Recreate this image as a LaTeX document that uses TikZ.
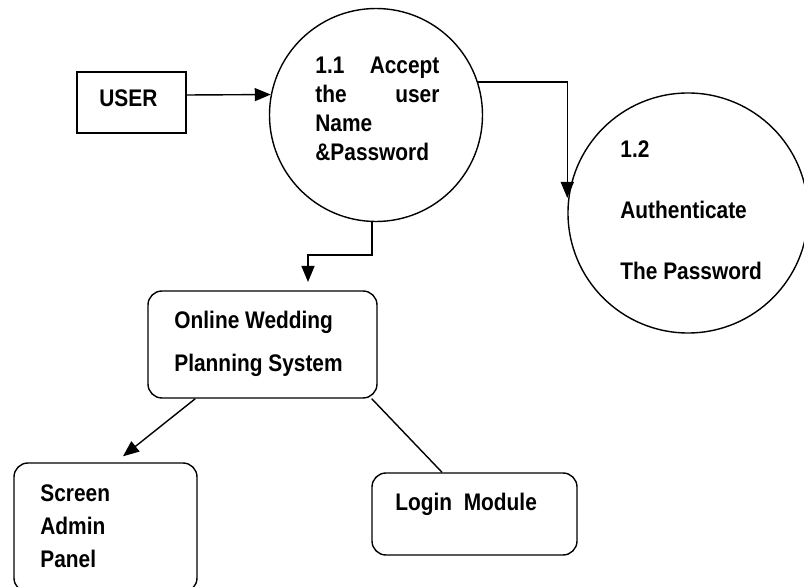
\documentclass[tikz,border=0pt]{standalone}
\usepackage{fontspec}
\setmainfont{Liberation Sans}[FakeStretch=0.87]
\usetikzlibrary{arrows.meta}

\begin{document}
\begin{tikzpicture}[x=0.5pt, y=-0.5pt,
    process style/.style={draw=black, line width=0.7pt, circle, inner sep=0pt},
    entity style/.style={draw=black, line width=0.7pt, rectangle, inner sep=0pt},
    module style/.style={draw=black, line width=0.7pt, rectangle, rounded corners=7pt, inner sep=0pt},
    label style/.style={inner sep=0pt, anchor=base west, align=left, font=\bfseries\fontsize{12}{#1}\selectfont},
    label style/.default=14.5,
    flow style/.style={line width=0.7pt, -{Triangle[length=8pt, width=6.5pt]}},
    link style/.style={line width=0.7pt},]
    \useasboundingbox (0,0) rectangle (804,587);

    % boxes and processes
    \node[style=entity style, minimum width=54.5pt, minimum height=30.5pt] (user) at (131.5,102.5) {};
    \node[style=process style, minimum size=106.5pt] (accept) at (376,115) {};
    \node[style=process style, minimum size=120pt] (auth) at (688,213) {};
    \node[style=module style, minimum width=114.5pt, minimum height=53.5pt] (system) at (262.5,344.5) {};
    \node[style=module style, minimum width=91.5pt, minimum height=64.5pt] (admin) at (105.5,527.5) {};
    \node[style=module style, minimum width=102.5pt, minimum height=41pt] (login) at (474.5,514) {};

    % texts (base = last line)
    \node[style=label style] (user text) at (99,107) {USER};
    \node[style=label style, text width=62pt] (accept text) at (315,74) {1.1\hfill Accept\\the\hfill user\\Name\\\&Password};
    \node[style={label style=30.5}] (auth text) at (620,280) {1.2\\Authenticate\\The Password};
    \node[style={label style=21.5}] (system text) at (174,372) {Online Wedding\\Planning System};
    \node[style={label style=16.5}] (admin text) at (40,568) {Screen\\Admin\\Panel};
    \node[style=label style] (login text) at (395,511) {Login\ \ Module};

    \coordinate (drop) at (308,282);

    % flows
    \draw[style=flow style] ([yshift=3.75pt]user.east) -- (accept.169);
    \draw[style=flow style] (accept.18) -| ([yshift=7.5pt]auth.west);
    \draw[style=flow style] ([xshift=-2pt]accept.south) -- ++(0,33) -| (drop);
    \draw[style=flow style] ([xshift=24pt]system.south west) -- ([xshift=8.75pt,yshift=3pt]admin.north);
    \draw[style=link style] ([xshift=-3pt]system.south east) -- ([xshift=-16.25pt]login.north);

\end{tikzpicture}
\end{document}
